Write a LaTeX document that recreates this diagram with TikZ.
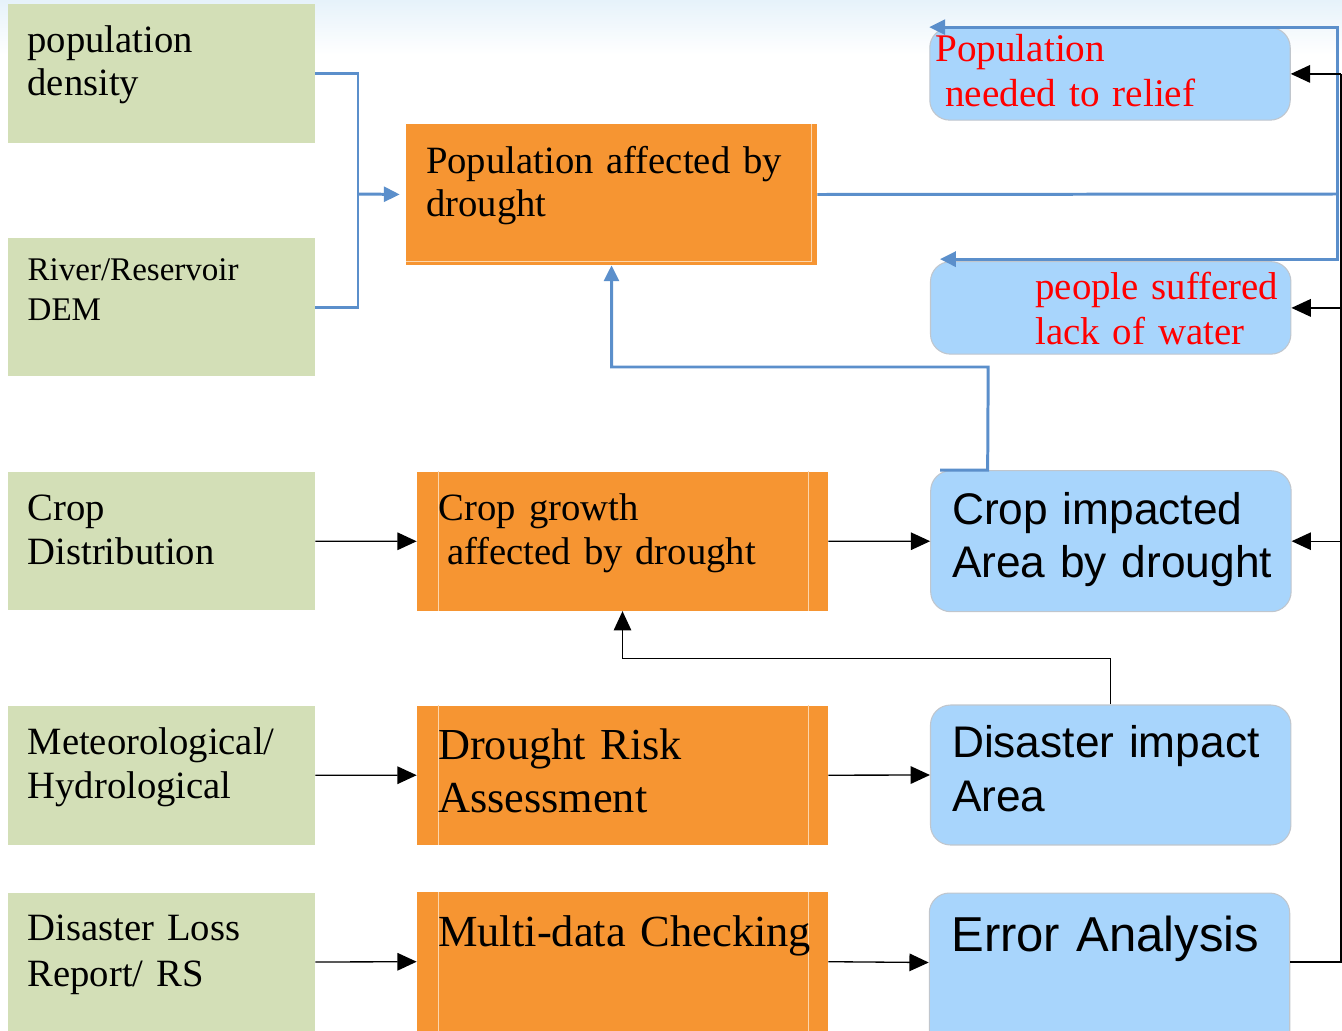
\documentclass[tikz,border=0pt]{standalone}
\usepackage{fontspec}
\setmainfont{Liberation Serif}
\setsansfont{Liberation Sans}
\usetikzlibrary{arrows.meta}

\definecolor{gfill}{RGB}{211,223,183}
\definecolor{ofill}{RGB}{246,149,50}
\definecolor{oline}{RGB}{252,214,172}
\definecolor{bfill}{RGB}{168,213,252}
\definecolor{bedge}{RGB}{192,198,205}
\definecolor{link}{RGB}{91,143,203}
\definecolor{bgtop}{RGB}{230,242,250}

\tikzset{
  gbox/.style={rectangle, fill=gfill, minimum width=6.14cm, minimum height=2.77cm, inner sep=0pt},
  obox/.style={rectangle, fill=ofill, minimum width=8.22cm, minimum height=2.78cm, inner sep=0pt},
  bbox/.style={rectangle, rounded corners=0.4cm, fill=bfill, draw=bedge, line width=0.6pt,
               minimum width=7.21cm, inner sep=0pt},
  oedge/.style={draw=oline, line width=0.5pt},
  txt/.style={anchor=base west, inner sep=0pt, text width=9cm, align=left},
  blk/.style={draw=black, line width=0.75pt},
  blkarrow/.style={blk, -{Triangle[length=11pt,width=10pt]}},
  blu/.style={draw=link, line width=1.7pt},
  bluarrow/.style={blu, -{Triangle[length=9pt,width=8.5pt]}},
}

\begin{document}
\begin{tikzpicture}[x=0.02cm, y=-0.02cm]
\useasboundingbox (0,0) rectangle (1342,1031);
\clip (0,0) rectangle (1342,1031);
\shade[top color=bgtop, bottom color=white] (0,0) rectangle (1342,55);

% input data
\node[gbox] (G1) at (161.5,73.3) {};
\node[gbox] (G2) at (161.5,307.2) {};
\node[gbox] (G3) at (161.5,541.2) {};
\node[gbox] (G4) at (161.5,775.3) {};
\node[gbox] (G5) at (161.5,962) {};

% processing steps
\node[obox, minimum height=2.82cm] (O1) at (611.5,194.5) {};
\node[obox] (O2) at (622.5,541.3) {};
\node[obox] (O3) at (622.5,775.2) {};
\node[obox] (O4) at (622.5,961.7) {};

\draw[oedge] ([xshift=-0.12cm]O1.north east) -- ([xshift=-0.12cm,yshift=0.08cm]O1.south east)
             -- ([yshift=0.08cm]O1.south west);
\foreach \o in {O2,O3,O4}{
  \draw[oedge] ([xshift=0.43cm]\o.north west) -- ([xshift=0.43cm]\o.south west);
  \draw[oedge] ([xshift=-0.4cm]\o.north east) -- ([xshift=-0.4cm]\o.south east);
}

% results
\node[bbox, minimum height=1.85cm] (B1) at (1110,73.9) {};
\node[bbox, minimum height=1.85cm] (B2) at (1110.7,307.9) {};
\node[bbox, minimum height=2.82cm] (B3) at (1110.9,541.2) {};
\node[bbox, minimum height=2.8cm] (B4) at (1110.7,775) {};
\node[bbox, minimum height=3.4cm] (B5) at (1109.5,978) {};

% population branch
\coordinate (jl) at (358,194);
\draw[blu] (G1.east) -| (jl);
\draw[blu] (G2.east) -| (jl);
\draw[bluarrow, shorten >=0.12cm] (jl) -- (O1.west);
\coordinate (jr) at (1337,194);
\draw[blu] (O1.east) -- (jr);
\draw[bluarrow] (jr) |- (B1.north west);
\draw[bluarrow] (jr) |- ([xshift=0.2cm,yshift=0.04cm]B2.north west);
\coordinate (cb) at (988.2,367);
\draw[bluarrow] ([xshift=0.2cm]B3.north west) -- ([xshift=1.15cm]B3.north west) -- (cb) -| (O1.south);

% crop and risk chain
\draw[blkarrow] (G3.east) -- (O2.west);
\draw[blkarrow] (O2.east) -- (B3.west);
\draw[blkarrow] (G4.east) -- (O3.west);
\draw[blkarrow] (O3.east) -- (B4.west);
\draw[blkarrow] (G5.east) -- (O4.west);
\draw[blkarrow] (O4.east) -- ([yshift=0.31cm]B5.west);
\coordinate (ib) at (1110.7,658.3);
\draw[blkarrow] (B4.north) -- (ib) -| (O2.south);

% error feedback
\coordinate (rb) at (1341,962);
\coordinate (rt) at (1341,73.9);
\draw[blk] (rb -| B5.east) -- (rb) -- (rt);
\draw[blkarrow] (rt) -- (B1.east);
\draw[blkarrow] (B2.east -| rt) -- (B2.east);
\draw[blkarrow] (B3.east -| rt) -- (B3.east);

% labels
\node[txt, font=\fontsize{22}{24.4}\selectfont] (tG1) at (27.3,52.7) {population\\density};
\node[txt, font=\fontsize{18.8}{22.8}\selectfont] (tG2) at (27.3,280.7) {River/Reservoir\\DEM};
\node[txt, font=\fontsize{22}{25.5}\selectfont] (tG3) at (27.3,520) {Crop\\Distribution};
\node[txt, font=\fontsize{22}{25.5}\selectfont] (tG4) at (27.3,754) {Meteorological/\\Hydrological};
\node[txt, font=\fontsize{22}{25.8}\selectfont] (tG5) at (27.3,940.7) {Disaster Loss\\Report/ RS};

\node[txt, font=\fontsize{22}{24.6}\selectfont] (tO1) at (425.8,173.3) {Population affected by\\drought};
\node[txt, font=\fontsize{22}{25.1}\selectfont] (tO2) at (438.6,520) {Crop growth\\\hspace*{0.22em}affected by drought};
\node[txt, font=\fontsize{25.2}{30.4}\selectfont] (tO3) at (437.9,759) {Drought Risk\\Assessment};
\node[txt, font=\fontsize{25.3}{30.4}\selectfont] (tO4) at (437.9,946) {Multi-data Checking};

\node[txt, text=red, font=\fontsize{22.3}{25.5}\selectfont] (tB1) at (935,61.7) {Population\\\hspace*{0.25em}needed to relief};
\node[txt, text=red, font=\fontsize{22.1}{26.1}\selectfont] (tB2) at (1035,299) {people suffered\\lack of water};
\node[txt, font=\sffamily\fontsize{25.2}{30.6}\selectfont] (tB3) at (951.7,524) {Crop impacted\\Area by drought};
\node[txt, font=\sffamily\fontsize{25.2}{30.6}\selectfont] (tB4) at (951.7,757.7) {Disaster impact\\Area};
\node[txt, font=\sffamily\fontsize{27.9}{33}\selectfont] (tB5) at (951,951.7) {Error Analysis};
\end{tikzpicture}
\end{document}
